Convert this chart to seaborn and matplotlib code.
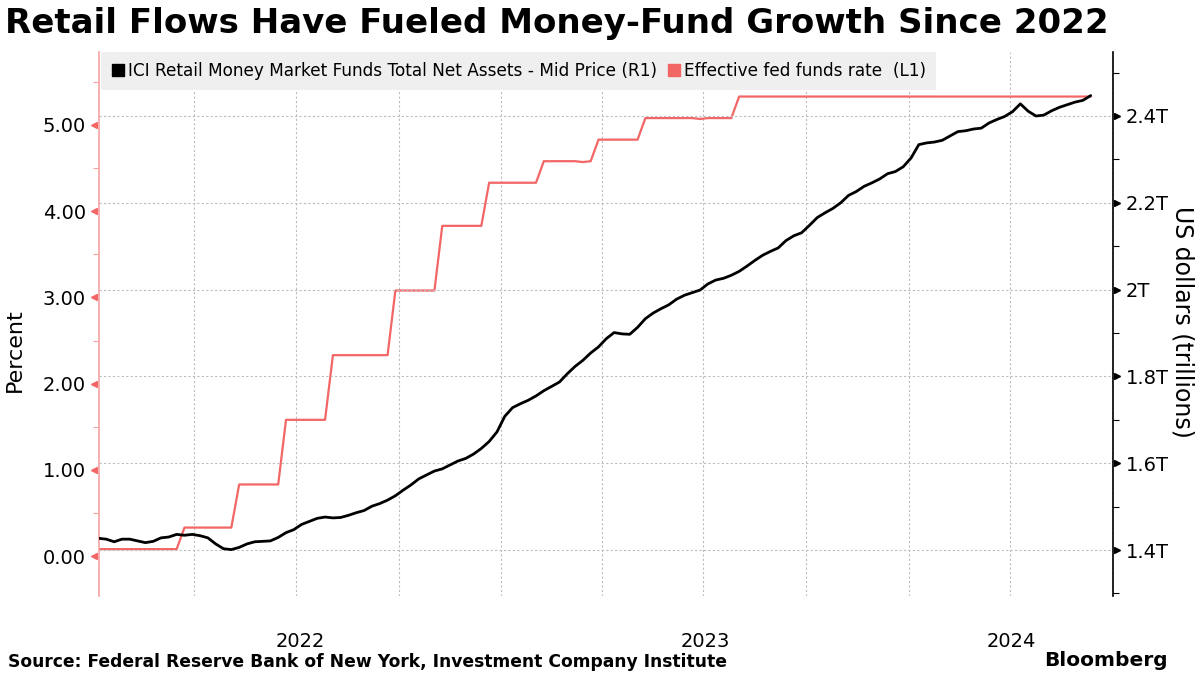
import matplotlib
matplotlib.use('Agg')
import matplotlib.pyplot as plt
import matplotlib.dates as mdates
from matplotlib.lines import Line2D
from matplotlib.ticker import FuncFormatter, MultipleLocator, FixedLocator
import seaborn as sns
import numpy as np
import pandas as pd

title = 'Retail Flows Have Fueled Money-Fund Growth Since 2022'
source = 'Source: Federal Reserve Bank of New York, Investment Company Institute'
ici_label = 'ICI Retail Money Market Funds Total Net Assets - Mid Price (R1)'
ffr_label = 'Effective fed funds rate  (L1)'

# ICI retail MMF assets, weekly (Wednesdays) from 2022-01-05, trillions USD
ici_start = '2022-01-05'
ici_values = [
    1.427, 1.425, 1.419, 1.425, 1.425, 1.421, 1.417, 1.420, 1.428, 1.430,
    1.436, 1.434, 1.436, 1.433, 1.428, 1.414, 1.403, 1.401, 1.406, 1.414,
    1.419, 1.420, 1.421, 1.429, 1.440, 1.447, 1.459, 1.466, 1.473, 1.476,
    1.474, 1.475, 1.480, 1.486, 1.491, 1.501, 1.507, 1.515, 1.525, 1.538,
    1.550, 1.564, 1.573, 1.582, 1.587, 1.596, 1.605, 1.611, 1.621, 1.634,
    1.650, 1.672, 1.708, 1.728, 1.737, 1.745, 1.755, 1.767, 1.777, 1.787,
    1.806, 1.823, 1.837, 1.854, 1.868, 1.887, 1.901, 1.898, 1.897, 1.913,
    1.933, 1.946, 1.956, 1.965, 1.978, 1.987, 1.993, 1.999, 2.013, 2.022,
    2.026, 2.033, 2.042, 2.054, 2.067, 2.079, 2.088, 2.096, 2.113, 2.124,
    2.131, 2.148, 2.166, 2.177, 2.187, 2.200, 2.217, 2.226, 2.238, 2.246,
    2.255, 2.267, 2.272, 2.283, 2.303, 2.334, 2.338, 2.340, 2.344, 2.354,
    2.364, 2.366, 2.370, 2.372, 2.384, 2.392, 2.399, 2.410, 2.428, 2.411,
    2.400, 2.402, 2.412, 2.420, 2.426, 2.432, 2.436, 2.447,
]

# effective fed funds rate, level from each date on (percent)
ffr_dates = ['2022-01-05', '2022-03-17', '2022-05-05', '2022-06-16', '2022-07-28',
             '2022-09-22', '2022-11-03', '2022-12-15', '2023-02-02', '2023-03-15',
             '2023-03-16', '2023-03-23', '2023-05-04', '2023-06-28', '2023-06-29',
             '2023-07-27']
ffr_levels = [0.08, 0.33, 0.83, 1.58, 2.33,
              3.08, 3.83, 4.33, 4.58, 4.57,
              4.58, 4.83, 5.08, 5.07, 5.08,
              5.33]

red = '#f26666'
grid_kw = dict(color='#bdbdbd', linestyle=(0, (2, 2)), linewidth=0.8)

weeks = pd.date_range(ici_start, periods=len(ici_values), freq='7D')
ffr = pd.Series(ffr_levels, index=pd.to_datetime(ffr_dates))
ffr_weekly = ffr.reindex(ffr.index.union(weeks)).ffill().reindex(weeks)
df = pd.DataFrame({'date': weeks, 'ici': ici_values, 'ffr': ffr_weekly.values})

sns.set_theme(style='white')
plt.rcParams['font.family'] = ['DejaVu Sans']
plt.rcParams['text.color'] = 'black'
plt.rcParams['axes.labelcolor'] = 'black'
plt.rcParams['xtick.color'] = 'black'
plt.rcParams['ytick.color'] = 'black'

fig = plt.figure(figsize=(12, 6.75), dpi=100)
ax = fig.add_axes([0.0821, 0.117, 0.8454, 0.806])
ax2 = ax.twinx()

sns.lineplot(data=df, x='date', y='ffr', ax=ax, color=red, linewidth=1.6)
sns.lineplot(data=df, x='date', y='ici', ax=ax2, color='black', linewidth=2.0)

xmin, xmax = pd.Timestamp('2022-01-05'), pd.Timestamp('2024-07-02')
ax.set_xlim(xmin, xmax)
ax.set_ylim(-0.464, 5.847)
ax2.set_ylim(1.294, 2.5475)

for a in (ax, ax2):
    a.set_xlabel('')
    a.set_ylabel('')
    for s in ('top', 'bottom'):
        a.spines[s].set_visible(False)
ax.spines['right'].set_visible(False)
ax2.spines['left'].set_visible(False)
ax.spines['left'].set_color('#f5a3a3')
ax.spines['left'].set_linewidth(1.2)
ax2.spines['right'].set_color('black')
ax2.spines['right'].set_linewidth(1.2)

# x axis: quarter gridlines, year labels centred in each year span
ax.xaxis.set_major_locator(mdates.MonthLocator(bymonth=[1, 4, 7, 10]))
ax.xaxis.set_major_formatter(FuncFormatter(lambda v, p: ''))
ax.tick_params(axis='x', which='major', length=5, color='#bdbdbd', width=0.8)
centers, labels = [], []
for yr in (2022, 2023, 2024):
    a0 = max(xmin, pd.Timestamp(f'{yr}-01-01'))
    a1 = min(xmax, pd.Timestamp(f'{yr + 1}-01-01'))
    centers.append(mdates.date2num(a0 + (a1 - a0) / 2))
    labels.append(str(yr))
ax.set_xticks(centers, labels, minor=True)
ax.tick_params(axis='x', which='minor', length=0, pad=26, labelsize=14, labelcolor='black')
ax.grid(axis='x', which='major', **grid_kw)

# left axis (percent)
ax.yaxis.set_major_locator(MultipleLocator(1))
ax.yaxis.set_minor_locator(MultipleLocator(0.5))
ax.yaxis.set_major_formatter(FuncFormatter(lambda v, p: f'{v:.2f}'))
ax.tick_params(axis='y', which='major', length=0, pad=9, labelsize=14, labelcolor='black')
ax.tick_params(axis='y', which='minor', length=4, width=0.8, color='#f5a3a3')
lt = np.arange(0, 6)
ax.plot(np.full(len(lt), -0.004), lt, marker='<', ms=5, color=red, ls='none',
        clip_on=False, transform=ax.get_yaxis_transform())

# right axis (trillions)
ax2.yaxis.set_major_locator(MultipleLocator(0.2))
ax2.yaxis.set_minor_locator(MultipleLocator(0.1))
ax2.yaxis.set_major_formatter(FuncFormatter(lambda v, p: f'{round(v, 1):g}T'))
ax2.tick_params(axis='y', which='major', length=0, pad=9, labelsize=14, labelcolor='black')
ax2.tick_params(axis='y', which='minor', length=4, width=0.8, color='black')
rt = ax2.get_yticks()
rt = rt[(rt > 1.3) & (rt < 2.5)]
ax2.plot(np.full(len(rt), 1.004), rt, marker='>', ms=5, color='black', ls='none',
         clip_on=False, transform=ax2.get_yaxis_transform())
ax2.grid(axis='y', which='major', **grid_kw)

handles = [Line2D([], [], marker='s', color='black', ls='none', markersize=9),
           Line2D([], [], marker='s', color=red, ls='none', markersize=9)]
leg = ax2.legend(handles, [ici_label, ffr_label], loc='upper left', bbox_to_anchor=(0.002, 1.0),
                 ncol=2, frameon=True, facecolor='#efefef', edgecolor='none', framealpha=1,
                 fancybox=False, borderaxespad=0, handletextpad=0.1, columnspacing=0.6,
                 handlelength=0.9, fontsize=12.2, borderpad=0.6)
leg.set_zorder(10)
for t in leg.get_texts():
    t.set_color('black')

fig.text(0.004, 1 - 24 / 675, title, fontsize=24.5, fontweight='bold', va='center', ha='left')
fig.text(15 / 1200, 1 - 350 / 675, 'Percent', fontsize=16, rotation=90, va='center', ha='center')
fig.text(1183 / 1200, 1 - 322 / 675, 'US dollars (trillions)', fontsize=17, rotation=270,
         va='center', ha='center')
fig.text(8 / 1200, 1 - 662 / 675, source, fontsize=12.3, fontweight='bold', va='center', ha='left')
fig.text(1168 / 1200, 1 - 661 / 675, 'Bloomberg', fontsize=14.5, fontweight='bold', va='center', ha='right')

fig.savefig('out.png', dpi=100)
